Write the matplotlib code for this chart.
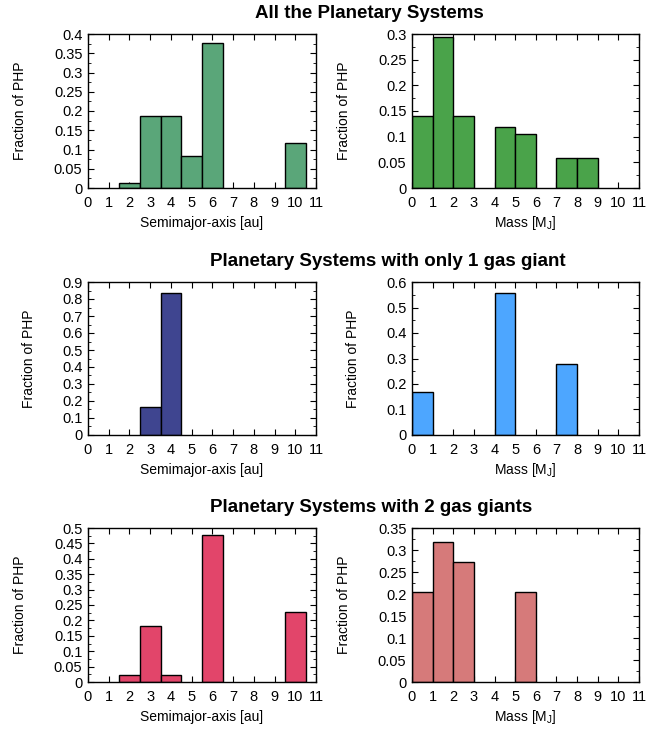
import numpy as np
import matplotlib.pyplot as plt
from matplotlib.ticker import MultipleLocator, AutoMinorLocator

plt.rcParams['font.family'] = ['Liberation Sans', 'DejaVu Sans']

# --- DATA ---
# semimajor-axis histograms: bins centred on integer au
a_centers = [2, 3, 4, 5, 6, 7, 8, 9, 10]
frac_a_all = [0.012, 0.188, 0.188, 0.082, 0.376, 0.0, 0.0, 0.0, 0.118]
frac_a_one = [0.0, 0.167, 0.833, 0.0, 0.0, 0.0, 0.0, 0.0, 0.0]
frac_a_two = [0.023, 0.182, 0.023, 0.0, 0.477, 0.0, 0.0, 0.0, 0.227]

# mass histograms: bins [n, n+1] M_J
m_left_edges = [0, 1, 2, 3, 4, 5, 6, 7, 8]
frac_m_all = [0.141, 0.294, 0.141, 0.0, 0.118, 0.106, 0.0, 0.059, 0.059]
frac_m_one = [0.167, 0.0, 0.0, 0.0, 0.556, 0.0, 0.0, 0.278, 0.0]
frac_m_two = [0.205, 0.318, 0.273, 0.0, 0.0, 0.205, 0.0, 0.0, 0.0]

row_titles = ["All the Planetary Systems",
              "Planetary Systems with only 1 gas giant",
              "Planetary Systems with 2 gas giants"]
title_x = [369, 388, 371]
colors_a = ['#5aa679', '#3f4590', '#e2456a']
colors_m = ['#4aa34a', '#4da6ff', '#d67a7a']
ymax_a = [0.4, 0.9, 0.5]
ystep_a = [0.05, 0.1, 0.05]
ymax_m = [0.3, 0.6, 0.35]
ystep_m = [0.05, 0.1, 0.05]

W, H = 670, 729
fig = plt.figure(figsize=(W / 100, H / 100), dpi=100)

# axes boxes in pixels (top, bottom) per row
rows_px = [(34, 188), (282, 435), (528, 682)]
cols_px = [(88, 316), (412, 639)]


def px_axes(x0, x1, y0, y1):
    return fig.add_axes([x0 / W, 1 - y1 / H, (x1 - x0) / W, (y1 - y0) / H])


def style(ax, ymax, ystep):
    ax.set_xlim(0, 11)
    ax.set_ylim(0, ymax)
    ax.xaxis.set_major_locator(MultipleLocator(1))
    ax.yaxis.set_minor_locator(AutoMinorLocator(2))
    ax.tick_params(which='both', direction='in', top=True, right=True, labelsize=10.5)
    ax.tick_params(axis='x', pad=6)
    ax.tick_params(axis='y', pad=4)
    ax.tick_params(which='major', length=4, width=0.8)
    ax.tick_params(which='minor', length=2, width=0.6)
    ax.tick_params(axis='x', which='minor', bottom=False, top=False)
    yt = np.round(np.arange(0, ymax + ystep / 2, ystep), 3)
    ax.set_yticks(yt)
    ax.set_yticklabels([f"{v:g}" for v in yt])
    for s in ax.spines.values():
        s.set_linewidth(1.0)
    ax.set_ylabel("Fraction of PHP", fontsize=10, labelpad=19)


data_a = [frac_a_all, frac_a_one, frac_a_two]
data_m = [frac_m_all, frac_m_one, frac_m_two]

for r in range(3):
    y0, y1 = rows_px[r]
    ax = px_axes(cols_px[0][0], cols_px[0][1], y0, y1)
    vals = np.array(data_a[r])
    keep = vals > 0
    ax.bar(np.array(a_centers)[keep], vals[keep], width=1.0, color=colors_a[r],
           edgecolor='black', linewidth=1.0, zorder=2)
    style(ax, ymax_a[r], ystep_a[r])
    ax.set_xlabel("Semimajor-axis [au]", fontsize=10, labelpad=4)

    ax = px_axes(cols_px[1][0], cols_px[1][1], y0, y1)
    vals = np.array(data_m[r])
    keep = vals > 0
    ax.bar(np.array(m_left_edges)[keep], vals[keep], width=1.0, align='edge',
           color=colors_m[r], edgecolor='black', linewidth=1.0, zorder=2)
    style(ax, ymax_m[r], ystep_m[r])
    ax.set_xlabel(r"Mass [M$_\mathregular{J}$]", fontsize=10, labelpad=3)

    fig.text(title_x[r] / W, 1 - (y0 - 21) / H, row_titles[r], ha='center', va='center',
             fontsize=13.5, fontweight='bold')

fig.savefig("out.png", dpi=100)
